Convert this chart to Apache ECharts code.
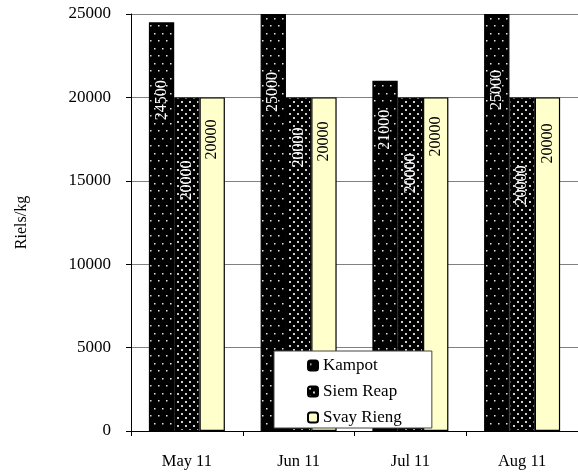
<!DOCTYPE html>
<html>
<head>
<meta charset="utf-8">
<script src="https://cdn.jsdelivr.net/npm/echarts@6/dist/echarts.min.js"></script>
<style>html,body{margin:0;padding:0;background:#fff;}#c{width:578px;height:475px;}</style>
</head>
<body>
<div id="c"></div>
<script>
// ---- data ----
const categories = ['May 11', 'Jun 11', 'Jul 11', 'Aug 11'];
const seriesNames = ['Kampot', 'Siem Reap', 'Svay Rieng'];
const kampot = [24500, 25000, 21000, 25000];
const siemReap = [20000, 20000, 20000, 20000];
const svayRieng = [20000, 20000, 20000, 20000];
const yTicks = [0, 5000, 10000, 15000, 20000, 25000];

// ---- style (label offsets from bar top, in px) ----
const labelOffsets = [
  [78, 78, 49, 76],
  [83, 50, 76, 88],
  [42, 44, 39, 46]
];

function makePattern(w, h, dots, size, dotColor) {
  const c = document.createElement('canvas');
  c.width = w; c.height = h;
  const ctx = c.getContext('2d');
  ctx.fillStyle = '#000';
  ctx.fillRect(0, 0, w, h);
  ctx.fillStyle = dotColor;
  dots.forEach(function (d) { ctx.fillRect(d[0], d[1], size, size); });
  return { image: c, repeat: 'repeat' };
}
const sparse = makePattern(8, 15, [[2, 3], [6, 10]], 1.5, '#e8e8e8');
const dense = makePattern(8, 8, [[1, 1], [5, 5]], 2, '#d0d0d0');
const colors = [sparse, dense, '#FFFFCC'];
const textColors = ['#fff', '#fff', '#000'];
const values = [kampot, siemReap, svayRieng];

const font = 'Liberation Serif';

const series = seriesNames.map(function (name, si) {
  return {
    name: name,
    type: 'bar',
    barGap: '0%',
    barCategoryGap: '32%',
    itemStyle: { color: colors[si], borderColor: '#000', borderWidth: 1.2 },
    label: {
      show: true, rotate: 90, align: 'center', verticalAlign: 'middle',
      color: textColors[si], fontFamily: font, fontSize: 16
    },
    data: values[si].map(function (v, i) {
      return { value: v, label: { position: ['50%', labelOffsets[si][i]] } };
    })
  };
});

const chart = echarts.init(document.getElementById('c'), null, { renderer: 'canvas' });
chart.setOption({
  animation: false,
  backgroundColor: '#fff',
  grid: { left: 131, right: 0, top: 14, bottom: 44 },
  legend: {
    orient: 'vertical', left: 274, top: 351,
    padding: [6, 30, 2, 33], itemGap: 9, itemWidth: 10, itemHeight: 10,
    backgroundColor: '#fff', borderColor: '#444', borderWidth: 1,
    textStyle: { fontFamily: font, fontSize: 17, color: '#000' },
    data: seriesNames
  },
  xAxis: {
    type: 'category', data: categories,
    axisLine: { lineStyle: { color: '#000', width: 1 } },
    axisTick: { show: true, length: 5, lineStyle: { color: '#000' } },
    axisLabel: { margin: 22, fontFamily: font, fontSize: 16.5, color: '#000' }
  },
  yAxis: {
    type: 'value', min: yTicks[0], max: yTicks[yTicks.length - 1], interval: yTicks[1] - yTicks[0],
    name: 'Riels/kg', nameLocation: 'middle', nameGap: 101,
    nameTextStyle: { fontFamily: font, fontSize: 16, color: '#000' },
    axisLine: { show: true, lineStyle: { color: '#000', width: 1 } },
    axisTick: { show: true, length: 5, lineStyle: { color: '#000' } },
    axisLabel: {
      margin: 20, fontFamily: font, fontSize: 17, color: '#000',
      formatter: function (v) { return String(v); }
    },
    splitLine: { show: true, lineStyle: { color: '#808080', width: 1 } }
  },
  series: series
});
</script>
</body>
</html>
